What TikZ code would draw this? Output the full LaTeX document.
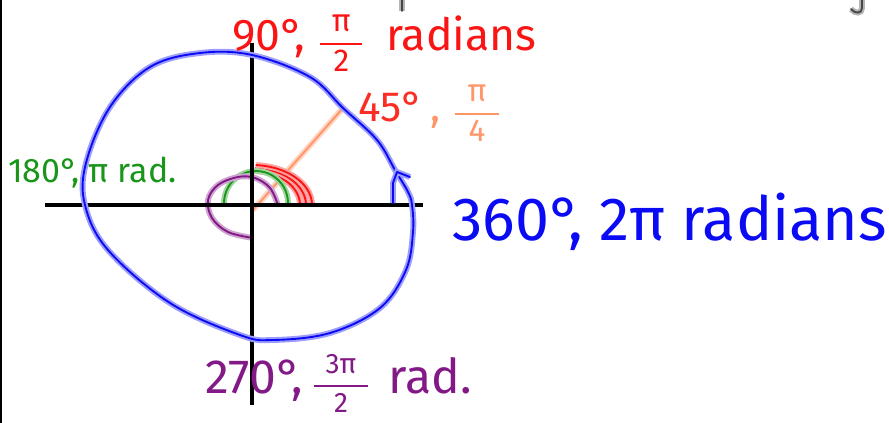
\documentclass[tikz,border=0pt]{standalone}
\usepackage{fontspec}
\setmainfont{Fira Sans}
\usepackage{amsmath}
\usetikzlibrary{positioning}
\definecolor{inkblue}{RGB}{10,10,245}
\definecolor{inkred}{RGB}{250,20,20}
\definecolor{inkorange}{RGB}{255,150,105}
\definecolor{inkgreen}{RGB}{25,150,25}
\definecolor{inkpurple}{RGB}{130,25,135}
\definecolor{inkgray}{RGB}{70,70,70}
\newcommand{\hfrac}[4]{$\genfrac{}{}{1.5pt}{0}{\makebox[#1]{\fontsize{#2}{#2}\selectfont #3}}{\makebox[#1]{\fontsize{#2}{#2}\selectfont #4}}$}

\begin{document}
\begin{tikzpicture}[x=0.03cm,y=-0.03cm,
    ink/.style={draw=#1,line width=1.6pt,line cap=round,line join=round,
                preaction={draw=#1!40,line width=5pt}},
    axisline/.style={line width=3.2pt},
    lbl/.style={anchor=base west,inner sep=0pt},
  ]
    \useasboundingbox (0,0) rectangle (889,423);
    \draw[line width=1.6pt] (1,0) -- (1,423);
    \draw[ink=inkgray] (402,0) -- (402,11);
    \draw[ink=inkgray] (862,0) -- (862,8) .. controls (862,14) and (855,14) .. (851,9);
    % axes
    \coordinate (O) at (252,205);
    \coordinate (west) at (45,205);
    \coordinate (east) at (423,205);
    \coordinate (north) at (252,43);
    \coordinate (south) at (252,405);
    % angles
    \coordinate (P45) at (343,108);
    \draw[ink=inkorange] ([shift={(1,5)}]O) -- (P45);
    \foreach \r/\s in {48/34,54/37,60/40}
      \draw[ink=inkred] plot[domain=0:86,smooth,variable=\t]
        ({252+\r*cos(\t)},{205-\s*sin(\t)});
    \draw[ink=inkgreen] plot[domain=0:180,smooth,variable=\t]
      ({256+32*cos(\t)},{203-32*sin(\t)});
    \draw[ink=inkpurple] plot[smooth,tension=0.6] coordinates {
      (278,205) (270,188) (255,178) (238,177) (218,185) (208,200)
      (212,218) (228,232) (253,238)};
    \draw[axisline] (west) -- (east);
    \draw[axisline] (north) -- (south);
    % circle
    \draw[ink=inkblue] plot[smooth cycle,tension=0.6] coordinates {
      (412,205) (413,232) (406,270) (380,308) (330,333) (273,340)
      (240,335) (170,303) (108,250) (85,205) (86,163) (110,107)
      (150,67) (200,53) (252,55) (310,77) (343,108) (377,140)
      (395,170) (408,192)};
    \draw[ink=inkblue] (393,203) -- (393,183) -- (397,172) -- (410,177);
    % labels
    \node[lbl,text=inkred,font=\fontsize{38}{38}\selectfont] (deg90) at (232,51)
      {90°,\hspace{0.3em}\hfrac{36pt}{27}{π}{2}\hspace{0.5em}radians};
    \node[lbl,text=inkred!80!inkorange,font=\fontsize{36}{36}\selectfont] (deg45) at (358,121)
      {45°};
    \node[lbl,text=inkorange,font=\fontsize{36}{36}\selectfont,right=6pt of deg45.base east,anchor=base west] (rad45)
      {,\hspace{0.3em}\hfrac{38pt}{27}{π}{4}};
    \node[lbl,text=inkgreen,font=\fontsize{29}{29}\selectfont] (deg180) at (8,182)
      {180°, π rad.};
    \node[lbl,text=inkblue,font=\fontsize{52}{52}\selectfont] (deg360) at (452,240)
      {360°, 2π radians};
    \node[lbl,text=inkpurple,font=\fontsize{41}{41}\selectfont] (deg270) at (205,393)
      {270°,\hspace{0.2em}\hfrac{46pt}{24}{3π}{2}\hspace{0.4em}rad.};
  \end{tikzpicture}
\end{document}
